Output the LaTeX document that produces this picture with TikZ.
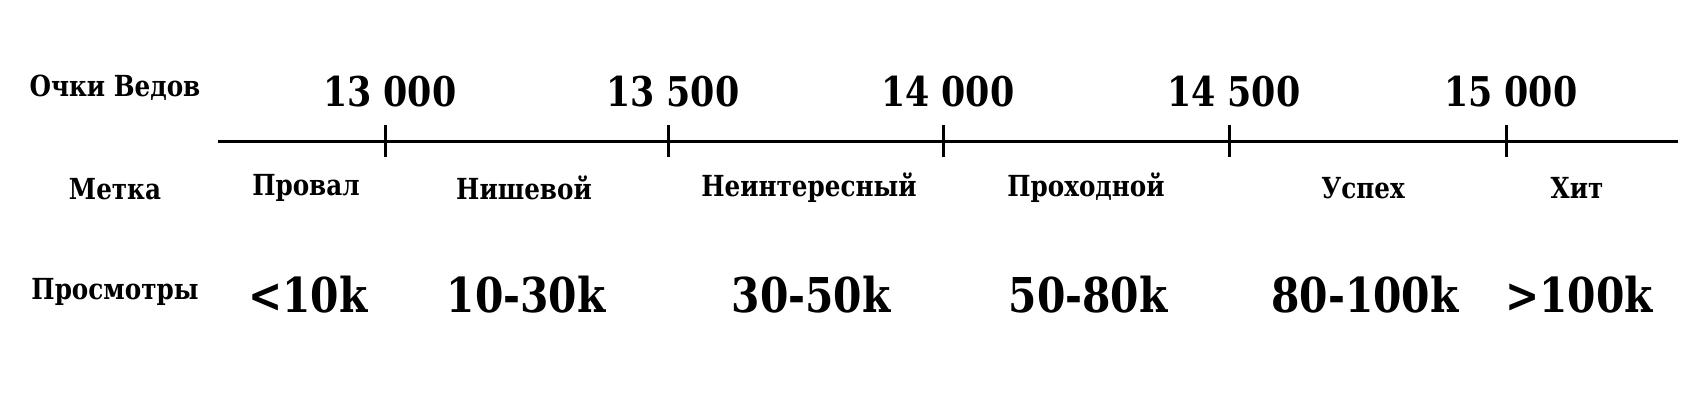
\documentclass[tikz,border=0pt]{standalone}
\usepackage{fontspec}
\setmainfont{DejaVu Serif}[FakeStretch=0.85]
\usetikzlibrary{positioning}
\tikzset{
  rowhead/.style={font=\bfseries\fontsize{29}{31}\selectfont, inner sep=0pt},
  tick label/.style={font=\bfseries\fontsize{41}{44}\selectfont, inner sep=0pt},
  band label/.style={font=\bfseries\fontsize{29}{31}\selectfont, inner sep=0pt},
  views label/.style={font=\bfseries\fontsize{48}{50}\selectfont, inner sep=0pt},
  axis line/.style={line width=3pt}
}
\begin{document}
\begin{tikzpicture}[x=1pt,y=-1pt]
  \useasboundingbox (0,0) rectangle (1700,400);
  % Row headers
  \node[rowhead] (hscore) at (115,88) {Очки Ведов};
  \node[rowhead] (hmark) at (115,189) {Метка};
  \node[rowhead] (hviews) at (115,292) {Просмотры};
  % Axis
  \coordinate (axl) at (218,141);
  \coordinate (axr) at (1678,141);
  \draw[axis line] (axl) -- (axr);
  \foreach \x/\v [count=\i] in {385/13\;000, 668/13\;500, 943/14\;000, 1229/14\;500, 1506/15\;000}{
    \coordinate (t\i) at (\x,141);
    \draw[axis line] ([yshift=16pt]t\i) -- ([yshift=-16pt]t\i);
    \node[tick label] (n\i) at (\x+5,92) {\v};
  }
  % Bands
  \foreach \x/\m/\w [count=\i] in {306/Провал/<10k, 524/Нишевой/10-30k, 809/Неинтересный/30-50k,
      1086/Проходной/50-80k, 1363/Успех/80-100k, 1577/Хит/>100k}{
    \node[band label] (m\i) at (\x,188) {\m};
    \node[views label] (v\i) at (\x+2,295) {\w};
  }
\end{tikzpicture}
\end{document}
